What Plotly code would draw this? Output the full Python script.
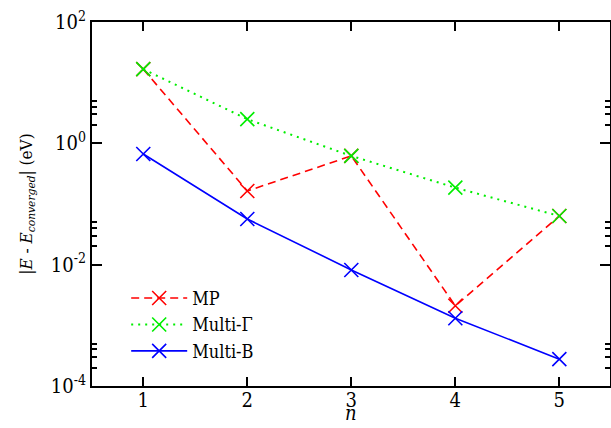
import plotly.graph_objects as go

n_vals = [1, 2, 3, 4, 5]
mp = [16.7, 0.164, 0.62, 0.0021, 0.0634]
multi_gamma = [16.7, 2.5, 0.62, 0.186, 0.0634]
multi_b = [0.667, 0.0566, 0.00818, 0.00131, 0.000277]

y_tickvals = [1e-4, 1e-2, 1, 1e2]
y_ticktext = ["10<sup>-4</sup>", "10<sup>-2</sup>", "10<sup>0</sup>", "10<sup>2</sup>"]
y_minorvals = [2e-4, 3e-4, 4e-4, 5e-4, 0.02, 0.03, 0.04, 0.05, 2, 3, 4, 5]

FONT = "'DejaVu Serif Condensed', 'DejaVu Serif', serif"

fig = go.Figure()
marker_common = dict(symbol="x-thin", size=14)
fig.add_trace(go.Scatter(
    x=n_vals, y=mp, mode="lines+markers", name="MP",
    line=dict(color="#ff0000", width=1.6, dash="8px,5px"),
    marker=dict(**marker_common, color="#ff0000", line=dict(color="#ff0000", width=1.6)),
))
fig.add_trace(go.Scatter(
    x=n_vals, y=multi_gamma, mode="lines+markers", name="Multi-Γ",
    line=dict(color="#00ee00", width=2, dash="2px,5px"),
    marker=dict(**marker_common, color="#00ee00", line=dict(color="#00ee00", width=1.6)),
))
fig.add_trace(go.Scatter(
    x=n_vals, y=multi_b, mode="lines+markers", name="Multi-B",
    line=dict(color="#0000ff", width=1.6),
    marker=dict(**marker_common, color="#0000ff", line=dict(color="#0000ff", width=1.6)),
))

fig.update_layout(
    width=611, height=428,
    margin=dict(l=92, r=1, t=22, b=42),
    paper_bgcolor="white", plot_bgcolor="white",
    font=dict(family=FONT, size=20, color="black"),
    showlegend=True,
    legend=dict(x=0.066, y=0.168, xanchor="left", yanchor="middle",
                bgcolor="rgba(0,0,0,0)", font=dict(size=18, family=FONT),
                tracegroupgap=0, itemwidth=56),
    xaxis=dict(
        range=[0.507, 5.487], tickvals=n_vals, ticks="inside", ticklen=9,
        tickwidth=1.5, tickcolor="black", showline=True, linecolor="black",
        linewidth=2, mirror="ticks", showgrid=False, zeroline=False,
        automargin=False, tickfont=dict(size=20, family=FONT),
        ticklabelstandoff=-5,
    ),
    yaxis=dict(
        type="log", range=[-4, 2], tickvals=y_tickvals, ticktext=y_ticktext,
        ticks="inside", ticklen=10, tickwidth=1.5, tickcolor="black",
        showline=True, linecolor="black", linewidth=2, mirror="ticks",
        showgrid=False, zeroline=False, automargin=False,
        minor=dict(tickmode="array", tickvals=y_minorvals, ticks="inside",
                   ticklen=5, tickwidth=1.5, tickcolor="black", showgrid=False),
        title=dict(text="|<i>E</i> - <i>E<sub>converged</sub></i>| (eV)", standoff=14,
                   font=dict(size=17, family=FONT)),
        tickfont=dict(size=20, family=FONT),
    ),
    annotations=[dict(text="<i>n</i>", xref="paper", yref="paper", x=0.5, y=0,
                      xanchor="center", yanchor="bottom", yshift=-41, showarrow=False,
                      font=dict(size=20, family=FONT))],
)

fig.write_html("out.html", config={"displayModeBar": False},
               post_script="document.body.style.margin='0px';")
